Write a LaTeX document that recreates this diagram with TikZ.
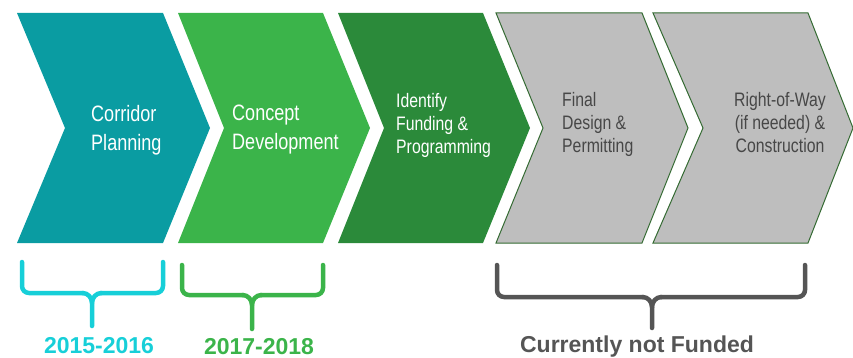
\documentclass[tikz,border=0pt]{standalone}
\usepackage{fontspec}
\setmainfont{Liberation Sans}
\newfontfamily\narrowfont[FakeStretch=0.81]{Liberation Sans}
\usetikzlibrary{calc}

\definecolor{tealstep}{HTML}{0A9CA2}
\definecolor{lightstep}{HTML}{3BB44A}
\definecolor{darkstep}{HTML}{2B8A3A}
\definecolor{graystep}{HTML}{BEBEBE}
\definecolor{grayedge}{HTML}{356B33}
\definecolor{graytext}{HTML}{474747}
\definecolor{cyanbrace}{HTML}{17CFD8}
\definecolor{greenbrace}{HTML}{3BB44A}
\definecolor{graybrace}{HTML}{555555}

\tikzset{
  bigtext/.style={font=\narrowfont\fontsize{22.3}{29}\selectfont, text=white, align=left, inner sep=0pt},
  smalltext/.style={font=\narrowfont\fontsize{19.5}{23}\selectfont, align=left, inner sep=0pt},
  yearlabel/.style={font=\fontsize{23}{28}\selectfont\bfseries, inner sep=0pt, anchor=base},
  bracestroke/.style={line width=4.5pt, line cap=round, line join=round},
  grayshape/.style={fill=graystep, draw=grayedge, line width=1pt},
}

% chevron: left x, right x, tip depth, notch depth
\newcommand{\chevronpath}[4]{(#1,13) -- (#2,13) -- (#2+#3,128) -- (#2,243) -- (#1,243) -- (#1+#4,128) -- cycle}

\begin{document}
\begin{tikzpicture}[x=1pt,y=-1pt]
  \useasboundingbox (0,0) rectangle (853,358);

  % process steps
  \fill[tealstep] \chevronpath{17}{163}{47}{48};
  \fill[lightstep] \chevronpath{178}{323}{47}{46};
  \fill[darkstep] \chevronpath{338}{483}{47}{46};
  \draw[grayshape] \chevronpath{496}{642}{46}{47};
  \draw[grayshape] \chevronpath{653}{808}{45}{50};

  \node[bigtext, anchor=west] (corridor) at (91,130) {Corridor\\Planning};
  \node[bigtext, anchor=west] (concept) at (232,130) {Concept\\Development};
  \node[smalltext, text=white, anchor=west] (funding) at (396,125) {Identify\\Funding \&\\Programming};
  \node[smalltext, text=graytext, anchor=west] (design) at (562,124.5) {Final\\Design \&\\Permitting};
  \node[smalltext, text=graytext, align=center] (row) at (780,123) {Right-of-Way\\(if needed) \&\\Construction};

  % timeline labels
  \node[yearlabel, text=cyanbrace] (y1) at (99,353) {2015-2016};
  \node[yearlabel, text=greenbrace] (y2) at (259,354.5) {2017-2018};
  \node[yearlabel, text=graybrace] (y3) at (637,352) {Currently not Funded};

  % braces
  \coordinate (b1l) at (22,262);  \coordinate (b1r) at (163,262);
  \coordinate (b1m) at (92,293);  \coordinate (b1s) at (92,326);
  \coordinate (b2l) at (182,265); \coordinate (b2r) at (323,265);
  \coordinate (b2m) at (252,295); \coordinate (b2s) at (252,329);
  \coordinate (b3l) at (497,265); \coordinate (b3r) at (805,265);
  \coordinate (b3m) at (652,297); \coordinate (b3s) at (652,328);

  \foreach \n/\c in {1/cyanbrace, 2/greenbrace, 3/graybrace}{
    \draw[bracestroke, draw=\c, rounded corners=7pt]
      (b\n l) |- ($(b\n m)+(-9,0)$);
    \draw[bracestroke, draw=\c]
      ($(b\n m)+(-9.5,0)$) to[out=0,in=90] ($(b\n m)+(0,10)$) -- (b\n s);
    \draw[bracestroke, draw=\c, rounded corners=7pt]
      (b\n r) |- ($(b\n m)+(9,0)$);
    \draw[bracestroke, draw=\c]
      ($(b\n m)+(9.5,0)$) to[out=180,in=90] ($(b\n m)+(0,10)$);
  }
\end{tikzpicture}
\end{document}
